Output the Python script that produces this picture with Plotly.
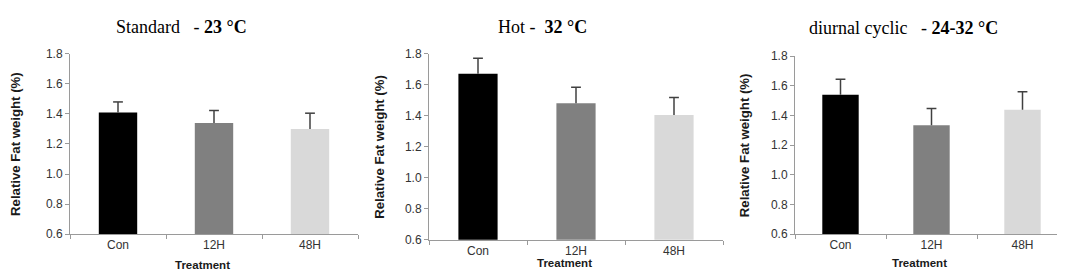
import plotly.graph_objects as go

categories = ["Con", "12H", "48H"]
bar_colors = ["#000000", "#808080", "#d9d9d9"]

standard_vals = [1.41, 1.34, 1.30]
standard_err = [0.07, 0.083, 0.105]
hot_vals = [1.672, 1.481, 1.406]
hot_err = [0.10, 0.104, 0.113]
cyclic_vals = [1.54, 1.335, 1.439]
cyclic_err = [0.105, 0.112, 0.122]

titles = [
    "Standard\u00a0\u00a0\u00a0- <b>23 °C</b>",
    "Hot - \u00a0<b>32 °C</b>",
    "diurnal cyclic \u00a0\u00a0- <b>24-32 °C</b>",
]
y_title = "Relative Fat weight (%)"
x_title = "Treatment"
y_ticks = [0.6, 0.8, 1.0, 1.2, 1.4, 1.6, 1.8]

W, H = 1065, 271
# pixel boxes: (x0, x1, ytop, ybottom)
boxes = [(62, 350, 41, 231), (421, 715, 41, 237), (787, 1060, 43.5, 231)]
title_pos = [(173, 13), (534, 13), (895, 14)]
ytitle_x = [8, 372, 736]
xtitle_y = [264, 262, 261]

series = [(standard_vals, standard_err), (hot_vals, hot_err), (cyclic_vals, cyclic_err)]
err_color = "#404040"
tick_font = dict(family="Liberation Sans, Arial", size=12, color="#333333")

fig = go.Figure()
annotations = []
for i, ((vals, errs), (x0, x1, yt, yb)) in enumerate(zip(series, boxes)):
    n = "" if i == 0 else str(i + 1)
    fig.add_trace(go.Bar(
        x=categories, y=vals, base=0,
        marker=dict(color=bar_colors, line=dict(width=0)),
        width=0.4,
        error_y=dict(type="data", symmetric=False, array=errs,
                     arrayminus=[0] * len(errs), color=err_color,
                     thickness=1.5, width=0),
        xaxis="x" + n, yaxis="y" + n, showlegend=False,
    ))
    # caps at top of error bars
    fig.add_trace(go.Scatter(
        x=categories, y=[v + e for v, e in zip(vals, errs)],
        mode="markers",
        marker=dict(symbol="line-ew", size=7, color=err_color,
                    line=dict(width=1.5, color=err_color)),
        xaxis="x" + n, yaxis="y" + n, showlegend=False, hoverinfo="skip",
    ))
    fig.layout["xaxis" + n] = dict(
        domain=[x0 / W, x1 / W], anchor="y" + n,
        showline=True, linecolor="#9a9a9a", linewidth=1,
        ticks="outside", tickson="boundaries", ticklen=4, tickcolor="#9a9a9a",
        tickfont=tick_font, showgrid=False, zeroline=False,
    )
    fig.layout["yaxis" + n] = dict(
        domain=[1 - yb / H, 1 - yt / H], anchor="x" + n,
        range=[0.6, 1.8], tickvals=y_ticks, tickformat=".1f",
        showline=True, linecolor="#9a9a9a", linewidth=1,
        ticks="outside", ticklen=4, tickcolor="#9a9a9a",
        tickfont=tick_font, showgrid=False, zeroline=False,
    )
    tx, ty = title_pos[i]
    annotations.append(dict(
        text=titles[i], x=tx / W, y=1 - ty / H, xref="paper", yref="paper",
        showarrow=False, xanchor="center", yanchor="middle",
        font=dict(family="Liberation Serif, Times New Roman", size=18, color="#000000"),
    ))
    annotations.append(dict(
        text="<b>" + y_title + "</b>", x=ytitle_x[i] / W, y=1 - ((yt + yb) / 2) / H,
        xref="paper", yref="paper", showarrow=False, textangle=-90,
        xanchor="center", yanchor="middle",
        font=dict(family="Liberation Sans, Arial", size=13.2, color="#1a1a1a"),
    ))
    annotations.append(dict(
        text="<b>" + x_title + "</b>", x=((x0 + x1) / 2 - 12) / W, y=1 - xtitle_y[i] / H,
        xref="paper", yref="paper", showarrow=False,
        xanchor="center", yanchor="middle",
        font=dict(family="Liberation Sans, Arial", size=11.5, color="#1a1a1a"),
    ))

fig.update_layout(
    width=W, height=H, margin=dict(l=0, r=0, t=0, b=0),
    paper_bgcolor="white", plot_bgcolor="white",
    annotations=annotations,
)
fig.write_html("out.html")
